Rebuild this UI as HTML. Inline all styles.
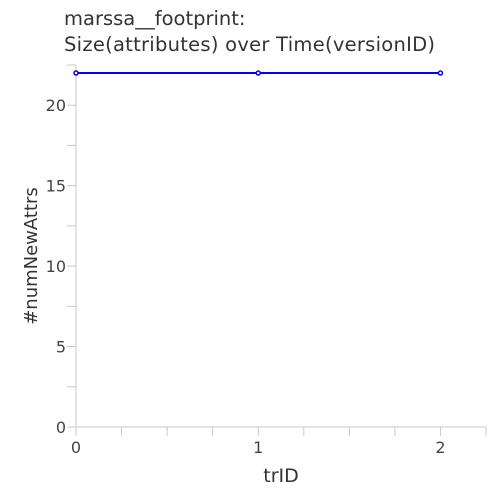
<!DOCTYPE html>
<html><head><meta charset="utf-8"><style>
body{margin:0;background:#fff;}
svg{display:block;font-family:"DejaVu Sans",sans-serif;}
</style></head><body>
<svg id="chart" width="500" height="500">
<text x="64" y="25" font-size="19.5" fill="#333">marssa__footprint:</text>
<text x="64" y="51" font-size="19.5" fill="#333" textLength="371">Size(attributes) over Time(versionID)</text>
<text transform="translate(37,256) rotate(-90)" text-anchor="middle" font-size="18" fill="#333">#numNewAttrs</text>
<text x="281" y="482" text-anchor="middle" font-size="19" fill="#333">trID</text>
<g id="axes"></g>
<g id="marks"></g>
</svg>
<script>
const xCategories=[0,1,2];
const yValues=[22,22,22];
const xTickLabels=["0","1","2"];
const yTickLabels=["0","5","10","15","20"];
const X0=76,X1=486,Y0=427,Y1=65,XMAX=2.25,YMAX=22.5;
const xs=v=>X0+v/XMAX*(X1-X0);
const ys=v=>Y0-v/YMAX*(Y0-Y1);
const NS="http://www.w3.org/2000/svg";
function mk(tag,attrs,parent){const e=document.createElementNS(NS,tag);for(const k in attrs)e.setAttribute(k,attrs[k]);parent.appendChild(e);return e;}
const axes=document.getElementById('axes'),marks=document.getElementById('marks');
let e=mk('line',{x1:X0,y1:Y0,x2:X1,y2:Y0,stroke:'#c8c8c8','stroke-width':1},axes);


e=mk('line',{x1:X0,y1:Y0,x2:X0,y2:Y1,stroke:'#c8c8c8','stroke-width':1},axes);


for(let v=0;v<=XMAX+1e-9;v+=0.25){
  e=mk('line',{x1:xs(v),y1:Y0,x2:xs(v),y2:Y0+9,stroke:'#c8c8c8','stroke-width':1},axes);
  
  
}
xTickLabels.forEach(t=>{
  e=mk('text',{x:xs(+t),y:Y0+26,'text-anchor':'middle','font-size':16,fill:'#444'},axes);
  e.textContent=t;
  
  
});
for(let v=0;v<=YMAX+1e-9;v+=2.5){
  e=mk('line',{x1:X0-9,y1:ys(v),x2:X0,y2:ys(v),stroke:'#c8c8c8','stroke-width':1},axes);
  
  
}
yTickLabels.forEach(t=>{
  e=mk('text',{x:X0-10,y:ys(+t)+6,'text-anchor':'end','font-size':16,fill:'#444'},axes);
  e.textContent=t;
  
  
});
const pts=xCategories.map((c,i)=>xs(c)+','+ys(yValues[i])).join(' ');
e=mk('polyline',{points:pts,fill:'none',stroke:'#0000ff','stroke-width':2},marks);


xCategories.forEach((c,i)=>{
  e=mk('circle',{cx:xs(c),cy:ys(yValues[i]),r:2,fill:'#fff',stroke:'#0000ff','stroke-width':1.5},marks);
  
  
});
</script>
</body></html>
